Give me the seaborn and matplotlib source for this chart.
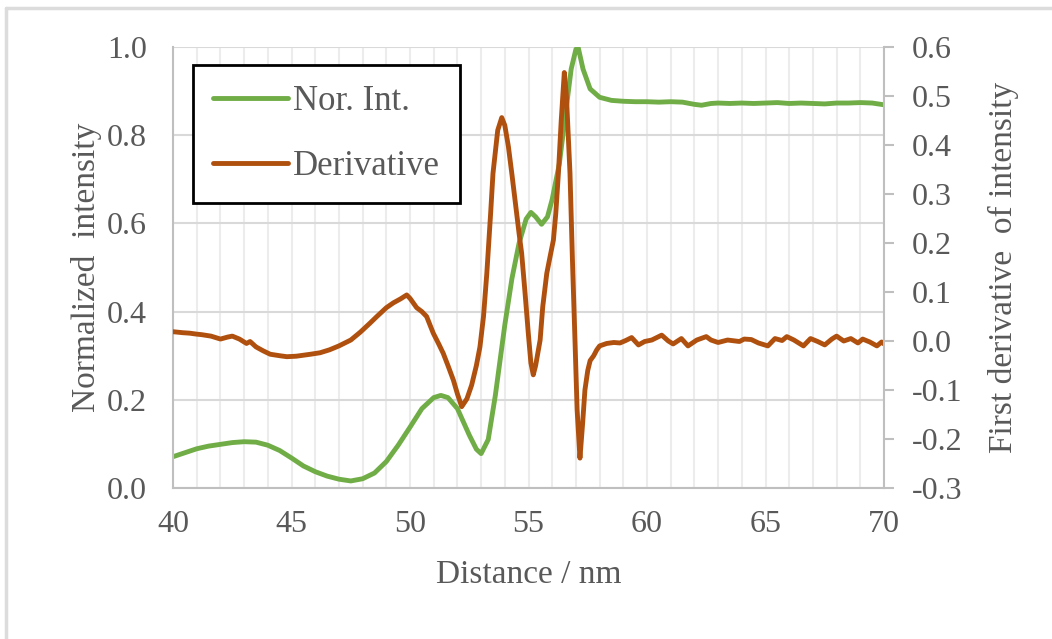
import numpy as np
import pandas as pd
import matplotlib
matplotlib.use('Agg')
import matplotlib.pyplot as plt
import seaborn as sns
from matplotlib.lines import Line2D
from matplotlib.ticker import MultipleLocator

# normalized intensity (left axis)
x_int = [40.0, 40.5, 41.0, 41.5, 42.0, 42.5, 43.0, 43.5, 44.0, 44.5, 45.0, 45.5, 46.0, 46.5,
         47.0, 47.5, 48.0, 48.5, 49.0, 49.5, 50.0, 50.5, 51.0, 51.3, 51.6, 52.0, 52.5, 52.8,
         53.0, 53.3, 53.6, 54.0, 54.3, 54.6, 54.9, 55.1, 55.3, 55.55, 55.8, 56.0, 56.3, 56.6,
         56.8, 57.0, 57.1, 57.3, 57.6, 58.0, 58.5, 59.0, 59.5, 60.0, 60.5, 61.0, 61.5, 62.0,
         62.3, 62.7, 63.0, 63.5, 64.0, 64.5, 65.0, 65.5, 66.0, 66.5, 67.0, 67.5, 68.0, 68.5,
         69.0, 69.5, 70.0]
nor_int = [0.071, 0.080, 0.089, 0.095, 0.099, 0.103, 0.105, 0.104, 0.097, 0.085, 0.068, 0.050,
           0.037, 0.027, 0.020, 0.016, 0.021, 0.034, 0.060, 0.097, 0.138, 0.180, 0.205, 0.210,
           0.205, 0.180, 0.120, 0.088, 0.078, 0.110, 0.210, 0.370, 0.475, 0.555, 0.610, 0.625,
           0.615, 0.598, 0.615, 0.655, 0.735, 0.865, 0.950, 0.995, 0.998, 0.950, 0.905, 0.886,
           0.879, 0.877, 0.876, 0.876, 0.875, 0.876, 0.875, 0.870, 0.868, 0.872, 0.873, 0.872,
           0.873, 0.872, 0.873, 0.874, 0.872, 0.873, 0.872, 0.871, 0.873, 0.873, 0.874, 0.873,
           0.869]

# first derivative (right axis)
x_der = [40.0, 40.4, 40.7, 41.0, 41.2, 41.6, 42.0, 42.3, 42.5, 42.8, 43.1, 43.25, 43.5, 43.8,
         44.1, 44.5, 44.8, 45.2, 45.5, 45.8, 46.2, 46.6, 47.0, 47.5, 47.9, 48.3, 48.6, 49.0,
         49.3, 49.6, 49.86, 50.0, 50.28, 50.5, 50.7, 50.98, 51.2, 51.4, 51.6, 51.83, 52.0,
         52.18, 52.4, 52.6, 52.8, 52.95, 53.1, 53.24, 53.4, 53.5, 53.7, 53.87, 54.0, 54.15,
         54.3, 54.43, 54.6, 54.71, 54.85, 54.99, 55.1, 55.2, 55.3, 55.49, 55.6, 55.77, 55.9,
         56.05, 56.15, 56.26, 56.38, 56.51, 56.6, 56.75, 56.85, 56.96, 57.05, 57.17, 57.28,
         57.38, 57.5, 57.6, 57.75, 57.88, 58.0, 58.3, 58.6, 58.86, 59.1, 59.35, 59.64, 59.9,
         60.2, 60.62, 60.9, 61.1, 61.45, 61.73, 62.1, 62.5, 62.7, 63.0, 63.4, 63.9, 64.1,
         64.4, 64.7, 65.1, 65.4, 65.7, 65.9, 66.2, 66.6, 66.9, 67.2, 67.5, 67.8, 68.0, 68.3,
         68.6, 68.9, 69.1, 69.4, 69.7, 69.9, 70.0]
deriv = [0.019, 0.017, 0.016, 0.014, 0.013, 0.010, 0.004, 0.008, 0.010, 0.004, -0.005, -0.001,
         -0.012, -0.020, -0.027, -0.030, -0.032, -0.031, -0.029, -0.027, -0.024, -0.018,
         -0.010, 0.002, 0.018, 0.036, 0.050, 0.068, 0.078, 0.086, 0.094, 0.087, 0.068, 0.060,
         0.050, 0.016, -0.005, -0.025, -0.050, -0.080, -0.108, -0.134, -0.118, -0.090, -0.050,
         -0.012, 0.050, 0.138, 0.260, 0.342, 0.430, 0.456, 0.440, 0.397, 0.340, 0.288, 0.220,
         0.179, 0.100, 0.016, -0.045, -0.069, -0.050, 0.002, 0.070, 0.138, 0.170, 0.206, 0.260,
         0.342, 0.450, 0.548, 0.500, 0.342, 0.170, 0.002, -0.140, -0.239, -0.170, -0.100,
         -0.060, -0.040, -0.030, -0.018, -0.010, -0.005, -0.003, -0.004, 0.001, 0.007, -0.008,
         -0.001, 0.002, 0.012, 0.000, -0.006, 0.005, -0.010, 0.002, 0.009, 0.002, -0.003,
         0.002, -0.001, 0.004, 0.003, -0.004, -0.010, 0.005, 0.001, 0.009, 0.002, -0.010,
         0.005, -0.001, -0.008, 0.004, 0.010, 0.000, 0.005, -0.004, 0.004, -0.002, -0.010,
         -0.002, -0.006]

df_int = pd.DataFrame({'x': x_int, 'y': nor_int})
df_der = pd.DataFrame({'x': x_der, 'y': deriv})

sns.set_theme(style='white')
plt.rcParams['font.family'] = ['Liberation Serif', 'DejaVu Serif']
txt = '#595959'
grey = '#bfbfbf'

fig = plt.figure(figsize=(10.52, 6.39), dpi=100)
ax = fig.add_axes([0.1645, 0.2363, 0.6758, 0.6901])
ax2 = ax.twinx()

green = '#70ad47'
brown = '#b0500f'
sns.lineplot(data=df_int, x='x', y='y', ax=ax, color=green, lw=3.5, legend=False)
sns.lineplot(data=df_der, x='x', y='y', ax=ax2, color=brown, lw=3.5, legend=False)

ax.set_xlim(40, 70)
ax.set_ylim(0, 1.0)
ax2.set_ylim(-0.3, 0.6)
ax.set_xticks(range(40, 71, 5))
ax.xaxis.set_minor_locator(MultipleLocator(1))
ax.set_yticks(np.arange(0, 1.01, 0.2))
ax.set_yticklabels([f'{v:.1f}' for v in np.arange(0, 1.01, 0.2)])
ax2.set_yticks(np.arange(-0.3, 0.61, 0.1))
ax2.set_yticklabels([f'{v:.1f}' for v in np.arange(-0.3, 0.61, 0.1)])

ax.grid(axis='x', which='both', color='#ececec', lw=1.5)
ax.grid(axis='y', which='major', color='#d9d9d9', lw=1.5)
ax.set_axisbelow(True)

for a in (ax, ax2):
    for s in a.spines.values():
        s.set_visible(False)
ax.spines['left'].set_visible(True)
ax.spines['left'].set_color(grey)
ax.spines['left'].set_linewidth(1.5)
ax.spines['bottom'].set_visible(True)
ax.spines['bottom'].set_color(grey)
ax.spines['bottom'].set_linewidth(1.5)
ax2.spines['right'].set_visible(True)
ax2.spines['right'].set_color(grey)
ax2.spines['right'].set_linewidth(1.5)

ax.tick_params(axis='x', which='both', length=0, labelsize=23, labelcolor=txt, pad=16)
ax.tick_params(axis='y', which='both', length=0, labelsize=23, labelcolor=txt, pad=19)
ax2.tick_params(axis='y', length=7, width=1.5, color=grey, labelsize=23, labelcolor=txt, pad=13)

ax.set_xlabel('Distance / nm', fontsize=24, color=txt)
ax.set_ylabel('Normalized  intensity', fontsize=24, color=txt)
ax2.set_ylabel('First derivative  of intensity', fontsize=24, color=txt)
ax.xaxis.set_label_coords(0.5, -0.163)
ax.yaxis.set_label_coords(-0.1, 0.5)
ax2.yaxis.set_label_coords(1.146, 0.5)

handles = [Line2D([], [], color=green, lw=3.5), Line2D([], [], color=brown, lw=3.5)]
leg = ax2.legend(handles, ['Nor. Int.', 'Derivative'], loc='upper left',
                 bbox_to_anchor=(0.028, 0.959), borderaxespad=0, fontsize=25,
                 frameon=True, fancybox=False, framealpha=1, edgecolor='black',
                 handlelength=2.16, handletextpad=0.15, labelspacing=0.92, borderpad=0.58)
leg.get_frame().set_linewidth(2)
for t in leg.get_texts():
    t.set_color(txt)

# outer frame (top and left edges)
fig.add_artist(Line2D([6 / 1052, 1], [1 - 8 / 639, 1 - 8 / 639], transform=fig.transFigure,
                      color='#dcdcdc', lw=2.5))
fig.add_artist(Line2D([6 / 1052, 6 / 1052], [0, 1 - 8 / 639], transform=fig.transFigure,
                      color='#dcdcdc', lw=2.5))

fig.savefig('out.png', dpi=100)
